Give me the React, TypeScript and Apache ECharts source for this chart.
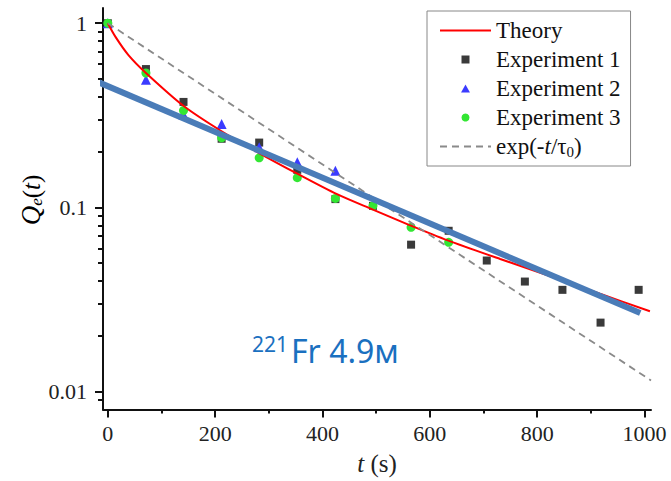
import React, { useEffect, useRef } from "react";
import * as echarts from "echarts";

// ---------- data ----------
const exp1Times = [0, 71, 141, 212, 282, 353, 424, 494, 565, 635, 706, 777, 847, 918, 989];
const exp1Values = [1.0, 0.564, 0.374, 0.236, 0.225, 0.16, 0.111, 0.102, 0.0628, 0.0747, 0.0515, 0.0396, 0.0357, 0.0237, 0.0357];
const exp2Times = [0, 71, 141, 212, 282, 353, 424];
const exp2Values = [1.0, 0.494, 0.319, 0.284, 0.212, 0.176, 0.158];
const exp3Times = [0, 71, 141, 212, 282, 353, 424, 494, 565, 635];
const exp3Values = [1.0, 0.537, 0.336, 0.239, 0.186, 0.145, 0.112, 0.102, 0.078, 0.0647];
const theoryTimes = [0, 14, 38, 71, 142, 212, 281, 352, 427, 495, 561, 632, 731, 848, 917, 1010];
const theoryValues = [1, 0.846, 0.674, 0.537, 0.354, 0.259, 0.198, 0.153, 0.118, 0.097, 0.0805, 0.0665, 0.0525, 0.0401, 0.034, 0.0273];
const refTimes = [0, 1012];
const refValues = [1, 0.0115];
const fitTimes = [-20, 992];
const fitValues = [0.482, 0.0267];

const xMajorTicks = [0, 200, 400, 600, 800, 1000];
const xMinorTicks = [100, 300, 500, 700, 900];
const yMajorTicks = [0.01, 0.1, 1];
const yMinorTicks = [0.009, 0.02, 0.03, 0.04, 0.05, 0.06, 0.07, 0.08, 0.09, 0.2, 0.3, 0.4, 0.5, 0.6, 0.7, 0.8, 0.9];

const REF_NAME = "exp(-t/τ0)";

const X_MIN = -9;
const X_MAX = 1012;
const Y_MIN = 0.008;
const Y_MAX = 1.21;

const SERIF = "'Liberation Serif', 'Times New Roman', serif";
const SANS = "'Noto Sans', 'Open Sans', sans-serif";
const zip = (xs: number[], ys: number[]) => xs.map((x, i) => [x, ys[i]]);

export default function App() {
  const ref = useRef<HTMLDivElement>(null);
  useEffect(() => {
    const chart = echarts.init(ref.current!, null, { renderer: "svg" });
    const axisColor = "#111";
    const labelStyle = { fontFamily: SERIF, fontSize: 22, color: "#222" };
    const option: any = {
      animation: false,
      backgroundColor: "#fff",
      grid: { left: 103, right: 20, top: 8, bottom: 70, containLabel: false },
      xAxis: [
        {
          type: "value",
          min: X_MIN,
          max: X_MAX,
          position: "bottom",
          axisLine: { show: true, onZero: false, lineStyle: { color: axisColor, width: 2 } },
          axisTick: { show: true, length: 8, customValues: xMajorTicks, lineStyle: { color: axisColor, width: 2 } },
          axisLabel: { customValues: xMajorTicks, margin: 13, formatter: (v: number) => String(v), ...labelStyle },
          splitLine: { show: false },
          name: "{i|t}{n| (s)}",
          nameLocation: "middle",
          nameGap: 40,
          nameTextStyle: {
            rich: {
              i: { fontFamily: SERIF, fontSize: 25, fontStyle: "italic", color: "#222", lineHeight: 28 },
              n: { fontFamily: SERIF, fontSize: 25, color: "#222", lineHeight: 28 },
            },
          },
        },
        {
          type: "value",
          min: X_MIN,
          max: X_MAX,
          position: "bottom",
          axisLine: { show: false, onZero: false },
          axisTick: { show: true, length: 4, customValues: xMinorTicks, lineStyle: { color: axisColor, width: 2 } },
          axisLabel: { show: false },
          splitLine: { show: false },
        },
      ],
      yAxis: [
        {
          type: "log",
          logBase: 10,
          min: Y_MIN,
          max: Y_MAX,
          position: "left",
          axisLine: { show: true, onZero: false, lineStyle: { color: axisColor, width: 2 } },
          axisTick: { show: true, length: 8, customValues: yMajorTicks, lineStyle: { color: axisColor, width: 2 } },
          axisLabel: { customValues: yMajorTicks, margin: 16, ...labelStyle },
          splitLine: { show: false },
        },
        {
          type: "log",
          logBase: 10,
          min: Y_MIN,
          max: Y_MAX,
          position: "left",
          axisLine: { show: false, onZero: false },
          axisTick: { show: true, length: 5, customValues: yMinorTicks, lineStyle: { color: axisColor, width: 2 } },
          axisLabel: { show: false },
          splitLine: { show: false },
        },
      ],
      legend: {
        data: [
          { name: "Theory", itemStyle: { opacity: 0 } },
          { name: "Experiment 1", icon: "path://M0,0L10,0L10,10L0,10Z" },
          { name: "Experiment 2", icon: "path://M5,0L10,9L0,9Z" },
          { name: "Experiment 3", icon: "circle" },
          { name: REF_NAME, itemStyle: { opacity: 0 } },
        ],
        orient: "vertical",
        left: 427,
        top: 11,
        align: "left",
        itemWidth: 51,
        itemHeight: 8,
        itemGap: 6,
        symbolKeepAspect: true,
        padding: [8, 10, 7, 12],
        borderColor: "#888",
        borderWidth: 1,
        backgroundColor: "#fff",
        selectedMode: false,
        formatter: (name: string) =>
          name === REF_NAME ? "{n|exp(-}{i|t}{n|/τ}{s|0}{n|)}" : `{n|${name}}`,
        textStyle: {
          rich: {
            n: { fontFamily: SERIF, fontSize: 23, color: "#111", lineHeight: 25 },
            i: { fontFamily: SERIF, fontSize: 23, fontStyle: "italic", color: "#111", lineHeight: 25 },
            s: { fontFamily: SERIF, fontSize: 15, color: "#111", lineHeight: 10, verticalAlign: "bottom" },
          },
        },
      },
      series: [
        {
          name: "Theory",
          type: "line",
          data: zip(theoryTimes, theoryValues),
          symbol: "none",
          smooth: 0.3,
          lineStyle: { color: "#ff0000", width: 2 },
          itemStyle: { color: "#ff0000" },
        },
        {
          name: REF_NAME,
          type: "line",
          data: zip(refTimes, refValues),
          symbol: "none",
          lineStyle: { color: "#8a8a8a", width: 1.8, type: [7, 5] },
          itemStyle: { color: "#8a8a8a" },
        },
        {
          name: "Experiment 1",
          type: "scatter",
          data: zip(exp1Times, exp1Values),
          symbol: "rect",
          symbolSize: 8,
          itemStyle: { color: "#3a3a3a", opacity: 1 },
        },
        {
          name: "Experiment 2",
          type: "scatter",
          data: zip(exp2Times, exp2Values),
          symbol: "triangle",
          symbolSize: 10,
          itemStyle: { color: "#3b3bff", opacity: 1 },
        },
        {
          name: "Experiment 3",
          type: "scatter",
          data: zip(exp3Times, exp3Values),
          symbol: "circle",
          symbolSize: 9,
          itemStyle: { color: "#33e633", opacity: 1 },
        },
        {
          name: "fit",
          type: "line",
          data: zip(fitTimes, fitValues),
          symbol: "none",
          clip: false,
          lineStyle: { color: "#4a7cb8", width: 6 },
          itemStyle: { color: "#4a7cb8" },
          z: 5,
        },
      ],
      graphic: [
        {
          type: "text",
          x: 31,
          y: 200,
          rotation: Math.PI / 2,
          style: {
            text: "{q|Q}{e|e}{n|(}{t|t}{n|)}",
            align: "center",
            verticalAlign: "middle",
            rich: {
              q: { fontFamily: SERIF, fontSize: 27, fontStyle: "italic", color: "#222", lineHeight: 28 },
              e: { fontFamily: SERIF, fontSize: 17, fontStyle: "italic", color: "#222", lineHeight: 10, verticalAlign: "bottom" },
              n: { fontFamily: SERIF, fontSize: 25, color: "#222", lineHeight: 28 },
              t: { fontFamily: SERIF, fontSize: 25, fontStyle: "italic", color: "#222", lineHeight: 28 },
            },
          },
        },
        {
          type: "text",
          x: 252,
          y: 344,
          style: {
            text: "221",
            fontFamily: SANS,
            fontSize: 21,
            fill: "#1a70c0",
            align: "left",
            verticalAlign: "middle",
          },
        },
        {
          type: "text",
          x: 291,
          y: 350,
          style: {
            text: "Fr 4.9м",
            fontFamily: SANS,
            fontSize: 32,
            fill: "#1a70c0",
            align: "left",
            verticalAlign: "middle",
          },
        },
      ],
    };
    chart.setOption(option);
    return () => chart.dispose();
  }, []);
  return (
    <div
      ref={ref}
      style={{ position: "fixed", left: 0, top: 0, width: 671, height: 481, background: "#fff" }}
    />
  );
}
